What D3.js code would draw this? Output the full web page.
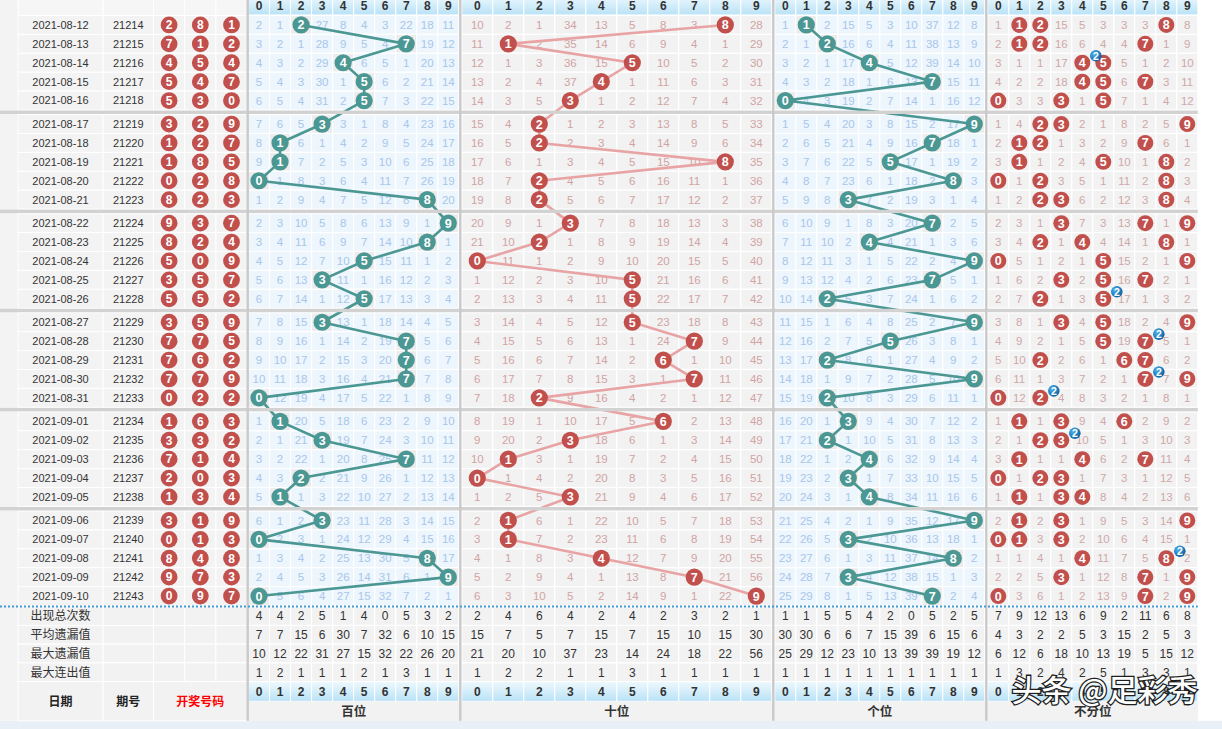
<!DOCTYPE html>
<html>
<head>
<meta charset="utf-8">
<script src="https://cdn.jsdelivr.net/npm/d3@7"></script>
<style>
  html, body { margin: 0; padding: 0; background: #ffffff; overflow: hidden; }
  svg { display: block; font-family: "Liberation Sans", "Noto Sans CJK SC", sans-serif; }
</style>
</head>
<body>
<svg id="chart" width="1222" height="729"></svg>
<script>
// ---- draw history ----
const dates = ["2021-08-12","2021-08-13","2021-08-14","2021-08-15","2021-08-16",
  "2021-08-17","2021-08-18","2021-08-19","2021-08-20","2021-08-21",
  "2021-08-22","2021-08-23","2021-08-24","2021-08-25","2021-08-26",
  "2021-08-27","2021-08-28","2021-08-29","2021-08-30","2021-08-31",
  "2021-09-01","2021-09-02","2021-09-03","2021-09-04","2021-09-05",
  "2021-09-06","2021-09-07","2021-09-08","2021-09-09","2021-09-10"];
const periods = ["21214","21215","21216","21217","21218","21219","21220","21221","21222","21223",
  "21224","21225","21226","21227","21228","21229","21230","21231","21232","21233",
  "21234","21235","21236","21237","21238","21239","21240","21241","21242","21243"];
const hundreds = [2,7,4,5,5,3,1,1,0,8,9,8,5,3,5,3,7,7,7,0,1,3,7,2,1,3,0,8,9,0];
const tens     = [8,1,5,4,3,2,2,8,2,2,3,2,0,5,5,5,7,6,7,2,6,3,1,0,3,1,1,4,7,9];
const units    = [1,2,4,7,0,9,7,5,8,3,7,4,9,7,2,9,5,2,9,2,3,2,4,3,4,9,3,8,3,7];

// omission counts shown on the first listed draw (null = drawn that day)
const firstBai = [2,1,null,27,8,4,3,22,18,11];
const firstShi = [10,2,1,34,13,5,8,3,null,28];
const firstGe  = [1,null,2,15,5,3,10,37,12,8];
const firstBu  = [1,null,null,15,5,3,3,3,null,8];

// summary rows
const statLabels = ["出现总次数","平均遗漏值","最大遗漏值","最大连出值"];
const statsBai = [[4,4,2,5,1,4,0,5,3,2],[7,7,15,6,30,7,32,6,10,15],[10,12,22,31,27,15,32,22,26,20],[1,2,1,1,1,2,1,3,1,1]];
const statsShi = [[2,4,6,4,2,4,2,3,2,1],[15,7,5,7,15,7,15,10,15,30],[21,20,10,37,23,14,24,18,22,56],[1,2,2,1,1,3,1,1,1,1]];
const statsGe  = [[1,1,5,5,4,2,0,5,2,5],[30,30,6,6,7,15,39,6,15,6],[25,29,12,23,10,13,39,39,19,12],[1,1,1,1,1,1,1,1,1,1]];
const statsBu  = [[7,9,12,13,6,9,2,11,6,8],[4,3,2,2,5,3,15,2,5,3],[6,12,6,18,10,13,19,5,15,12],[1,3,2,4,2,5,1,3,3,1]];

const digits = [0,1,2,3,4,5,6,7,8,9];
const zoneNames = ["百位","十位","个位","不分位"];
const headLabels = ["日期","期号","开奖号码"];
const watermark = "头条 @足彩秀";

// ---- layout ----
const W = 1222, H = 729;
const TOP = 15.5, RH = 18.9, SEP = 4.6;
const TABLE_R = 1197.8;
const STAT_TOP = 606.8, SRH = 18.7;
const HEAD2_TOP = STAT_TOP + 4 * SRH;       // digit header row at bottom
const LABEL_TOP = HEAD2_TOP + 19.7;         // zone name row
const TABLE_B = LABEL_TOP + 19.5;

const svg = d3.select("#chart");
const defs = svg.append("defs");
const hg = defs.append("linearGradient").attr("id","hdr").attr("x1",0).attr("y1",0).attr("x2",0).attr("y2",1);
hg.append("stop").attr("offset","0%").attr("stop-color","#eef9fe");
hg.append("stop").attr("offset","100%").attr("stop-color","#b9e2f6");
const bg = defs.append("radialGradient").attr("id","blueBall").attr("cx","35%").attr("cy","35%").attr("r","70%");
bg.append("stop").attr("offset","0%").attr("stop-color","#4fb3ee");
bg.append("stop").attr("offset","100%").attr("stop-color","#0b5f9e");

// row positions (tops) — groups of five separated by a thicker rule
const yTop = d3.scaleOrdinal().domain(periods)
  .range(periods.map((p, i) => TOP + i * RH + Math.floor(i / 5) * SEP));
const yMid = p => yTop(p) + RH / 2;

// columns on the left
const leftCols = d3.scaleOrdinal().domain(["date","period","d0","d1","d2"])
  .range([[18,103],[103,153.5],[153.5,184.7],[184.7,215.9],[215.9,247.1]]);

// zone scales
const zones = [
  { name: zoneNames[0], range: [248.5, 458.8], bg: "#edf5fd", txt: "#a8c7ea", ball: "#4b9793", line: "#4b9793", first: firstBai, stats: statsBai, draws: hundreds },
  { name: zoneNames[1], range: [461.8, 771.8], bg: "#f2f2f2", txt: "#d1a3a3", ball: "#c1504d", line: "#e8a4a4", first: firstShi, stats: statsShi, draws: tens },
  { name: zoneNames[2], range: [774.8, 984.8], bg: "#edf5fd", txt: "#a8c7ea", ball: "#4b9793", line: "#4b9793", first: firstGe, stats: statsGe, draws: units },
  { name: zoneNames[3], range: [987.8, TABLE_R], bg: "#f2f2f2", txt: "#cfa8a8", ball: "#c1504d", line: null, first: firstBu, stats: statsBu, draws: null }
];
zones.forEach(z => {
  z.x = d3.scaleBand().domain(digits).range(z.range).padding(0);
  // hit counts per row
  z.hits = periods.map((p, i) => digits.map(d =>
    z.draws ? (z.draws[i] === d ? 1 : 0)
            : [hundreds[i], tens[i], units[i]].filter(v => v === d).length));
  // omission values
  z.omit = [];
  periods.forEach((p, i) => {
    z.omit.push(digits.map(d => {
      if (z.hits[i][d] > 0) return null;
      if (i === 0) return z.first[d];
      const prev = z.omit[i - 1][d];
      return prev === null ? 1 : prev + 1;
    }));
  });
});

// page background
svg.append("rect").attr("width", W).attr("height", H).attr("fill", "#ffffff");
svg.append("rect").attr("x", 0).attr("y", TABLE_B).attr("width", W).attr("height", H - TABLE_B).attr("fill", "#e9eff6");
svg.append("rect").attr("x", 0).attr("y", -5).attr("width", TABLE_R).attr("height", TABLE_B + 5).attr("fill", "#f3f3f3");

// ---- left columns ----
const leftG = svg.append("g");
// top header strip
leftCols.domain().forEach(k => {
  const [a, b] = leftCols(k);
  leftG.append("rect").attr("x", a).attr("y", -5).attr("width", b - a).attr("height", TOP + 5)
    .attr("fill", "#f6f6f6").attr("stroke", "#ffffff");
});
periods.forEach((p, i) => {
  leftCols.domain().forEach(k => {
    const [a, b] = leftCols(k);
    leftG.append("rect").attr("x", a).attr("y", yTop(p)).attr("width", b - a).attr("height", RH)
      .attr("fill", "#f3f3f3").attr("stroke", "#ffffff").attr("stroke-width", 1);
  });
  const [da, db] = leftCols("date");
  leftG.append("text").attr("x", (da + db) / 2).attr("y", yMid(p)).attr("dy", "0.35em")
    .attr("text-anchor", "middle").attr("font-size", 11).attr("fill", "#333").text(dates[i]);
  const [pa, pb] = leftCols("period");
  leftG.append("text").attr("x", (pa + pb) / 2).attr("y", yMid(p)).attr("dy", "0.35em")
    .attr("text-anchor", "middle").attr("font-size", 11).attr("fill", "#333").text(p);
  [hundreds[i], tens[i], units[i]].forEach((v, j) => {
    const [a, b] = leftCols("d" + j);
    const cx = (a + b) / 2;
    leftG.append("circle").attr("cx", cx).attr("cy", yMid(p)).attr("r", 8.4).attr("fill", "#c1504d");
    leftG.append("text").attr("x", cx).attr("y", yMid(p)).attr("dy", "0.36em")
      .attr("text-anchor", "middle").attr("font-size", 12).attr("font-weight", "bold")
      .attr("fill", "#fff").text(v);
  });
});
// summary rows labels
statLabels.forEach((lab, k) => {
  const y0 = STAT_TOP + k * SRH;
  leftCols.domain().forEach(c => {
    const [a, b] = leftCols(c);
    leftG.append("rect").attr("x", a).attr("y", y0).attr("width", b - a).attr("height", SRH)
      .attr("fill", "#f2f2f2").attr("stroke", "#ffffff");
  });
  const [a, b] = leftCols("date");
  leftG.append("text").attr("x", (a + b) / 2).attr("y", y0 + SRH / 2).attr("dy", "0.36em")
    .attr("text-anchor", "middle").attr("font-size", 12).attr("fill", "#333")
    .attr("font-family", "Noto Sans CJK SC").text(lab);
});
// bottom header labels (merged over two rows)
["date", "period"].forEach((c, k) => {
  const [a, b] = leftCols(c);
  leftG.append("rect").attr("x", a).attr("y", HEAD2_TOP).attr("width", b - a).attr("height", TABLE_B - HEAD2_TOP)
    .attr("fill", "#f2f2f2").attr("stroke", "#ffffff");
  leftG.append("text").attr("x", (a + b) / 2).attr("y", (HEAD2_TOP + TABLE_B) / 2).attr("dy", "0.36em")
    .attr("text-anchor", "middle").attr("font-size", 12).attr("font-weight", "bold")
    .attr("font-family", "Noto Sans CJK SC").attr("fill", "#222").text(headLabels[k]);
});
{
  const a = leftCols("d0")[0], b = leftCols("d2")[1];
  leftG.append("rect").attr("x", a).attr("y", HEAD2_TOP).attr("width", b - a).attr("height", TABLE_B - HEAD2_TOP)
    .attr("fill", "#f2f2f2").attr("stroke", "#ffffff");
  leftG.append("text").attr("x", (a + b) / 2).attr("y", (HEAD2_TOP + TABLE_B) / 2).attr("dy", "0.36em")
    .attr("text-anchor", "middle").attr("font-size", 12).attr("font-weight", "bold")
    .attr("font-family", "Noto Sans CJK SC").attr("fill", "#ff0000").text(headLabels[2]);
}

// ---- zones ----
zones.forEach(z => {
  const g = svg.append("g");
  const bw = z.x.bandwidth();
  // top digit header
  digits.forEach(d => {
    g.append("rect").attr("x", z.x(d)).attr("y", -5).attr("width", bw).attr("height", TOP + 5 - 0.5)
      .attr("fill", "url(#hdr)").attr("stroke", "#ffffff");
    g.append("text").attr("x", z.x(d) + bw / 2).attr("y", 5.5).attr("dy", "0.36em")
      .attr("text-anchor", "middle").attr("font-size", 12).attr("font-weight", "bold")
      .attr("fill", "#333").text(d);
  });
  // cells
  periods.forEach((p, i) => {
    digits.forEach(d => {
      const hit = z.hits[i][d] > 0;
      g.append("rect").attr("x", z.x(d)).attr("y", yTop(p)).attr("width", bw).attr("height", RH)
        .attr("fill", hit && z.bg !== "#f2f2f2" ? "#ececec" : z.bg)
        .attr("stroke", "#ffffff").attr("stroke-width", 1.2);
      if (!hit) {
        g.append("text").attr("x", z.x(d) + bw / 2).attr("y", yMid(p)).attr("dy", "0.36em")
          .attr("text-anchor", "middle").attr("font-size", 11.5).attr("fill", z.txt)
          .text(z.omit[i][d]);
      }
    });
  });
  // trend line
  if (z.line) {
    const pts = periods.map((p, i) => [z.x(z.draws[i]) + bw / 2, yMid(p)]);
    g.append("path").attr("d", d3.line()(pts)).attr("fill", "none")
      .attr("stroke", z.line).attr("stroke-width", 2.6).attr("stroke-linejoin", "round");
  }
  // balls
  periods.forEach((p, i) => {
    digits.forEach(d => {
      if (z.hits[i][d] === 0) return;
      const cx = z.x(d) + bw / 2, cy = yMid(p);
      g.append("circle").attr("cx", cx).attr("cy", cy).attr("r", z.line === null ? 8 : 8.6).attr("fill", z.ball);
      g.append("text").attr("x", cx).attr("y", cy).attr("dy", "0.36em")
        .attr("text-anchor", "middle").attr("font-size", 12.5).attr("font-weight", "bold")
        .attr("fill", "#ffffff").text(d);
    });
  });
  // repeat markers (digit drawn more than once)
  periods.forEach((p, i) => {
    digits.forEach(d => {
      const n = z.hits[i][d];
      if (n < 2) return;
      const cx = z.x(d) + bw / 2 + 13.5, cy = yMid(p) - 7;
      g.append("circle").attr("cx", cx).attr("cy", cy).attr("r", 5.8).attr("fill", "url(#blueBall)");
      g.append("text").attr("x", cx).attr("y", cy).attr("dy", "0.36em")
        .attr("text-anchor", "middle").attr("font-size", 10.5).attr("font-weight", "bold")
        .attr("fill", "#ffffff").text(n);
    });
  });
  // summary rows
  z.stats.forEach((row, k) => {
    const y0 = STAT_TOP + k * SRH;
    digits.forEach(d => {
      g.append("rect").attr("x", z.x(d)).attr("y", y0).attr("width", bw).attr("height", SRH)
        .attr("fill", "#f2f2f2").attr("stroke", "#ffffff").attr("stroke-width", 1.2);
      g.append("text").attr("x", z.x(d) + bw / 2).attr("y", y0 + SRH / 2).attr("dy", "0.36em")
        .attr("text-anchor", "middle").attr("font-size", 12).attr("fill", "#333").text(row[d]);
    });
  });
  // bottom digit header
  digits.forEach(d => {
    g.append("rect").attr("x", z.x(d)).attr("y", HEAD2_TOP).attr("width", bw).attr("height", LABEL_TOP - HEAD2_TOP)
      .attr("fill", "url(#hdr)").attr("stroke", "#ffffff");
    g.append("text").attr("x", z.x(d) + bw / 2).attr("y", (HEAD2_TOP + LABEL_TOP) / 2).attr("dy", "0.36em")
      .attr("text-anchor", "middle").attr("font-size", 12).attr("font-weight", "bold")
      .attr("fill", "#333").text(d);
  });
  // zone name
  g.append("rect").attr("x", z.range[0]).attr("y", LABEL_TOP).attr("width", z.range[1] - z.range[0])
    .attr("height", TABLE_B - LABEL_TOP).attr("fill", "#f2f2f2");
  g.append("text").attr("x", (z.range[0] + z.range[1]) / 2).attr("y", (LABEL_TOP + TABLE_B) / 2).attr("dy", "0.36em")
    .attr("text-anchor", "middle").attr("font-size", 12.5).attr("font-weight", "bold")
    .attr("font-family", "Noto Sans CJK SC").attr("fill", "#333").text(z.name);
});

// ---- rules ----
// group separators
for (let g = 1; g < 6; g++) {
  const yy = yTop(periods[g * 5]) - SEP;
  svg.append("rect").attr("x", 0).attr("y", yy + 0.6).attr("width", TABLE_R).attr("height", SEP - 1.2).attr("fill", "#d2d2d2");
}
// zone borders
[247.7, 460.3, 773.3, 986.3].forEach(xx => {
  svg.append("rect").attr("x", xx - 1.2).attr("y", -5).attr("width", 2.4).attr("height", TABLE_B + 5).attr("fill", "#c9c9c9");
});
// dotted rule above the summary rows
svg.append("line").attr("x1", 0).attr("x2", TABLE_R).attr("y1", STAT_TOP - 0.3).attr("y2", STAT_TOP - 0.3)
  .attr("stroke", "#3d9bd8").attr("stroke-width", 2).attr("stroke-dasharray", "2,2");

// ---- watermark ----
svg.append("text").attr("x", 1104.5).attr("y", 701)
  .attr("text-anchor", "middle").attr("font-size", 30).attr("font-weight", 500)
  .attr("font-family", "Noto Sans CJK SC").attr("fill", "#ffffff")
  .attr("stroke", "#1e1e1e").attr("stroke-width", 2.6).attr("paint-order", "stroke")
  .text(watermark);
</script>
</body>
</html>
